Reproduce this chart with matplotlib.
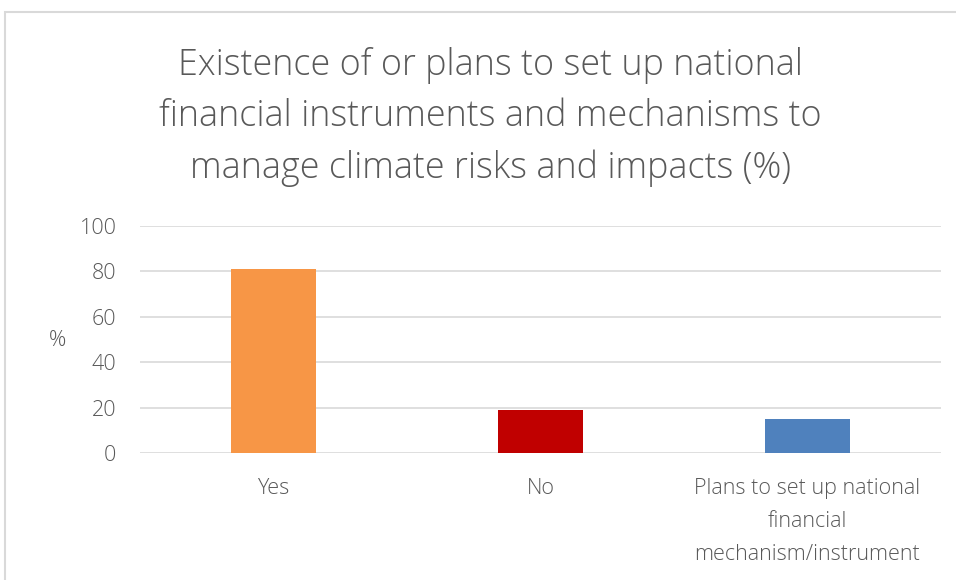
import matplotlib.pyplot as plt
from matplotlib.patches import Rectangle

# data
categories = ['Yes', 'No', 'Plans to set up national\nfinancial\nmechanism/instrument']
values = [81, 19, 15]
colors = ['#F79646', '#C00000', '#4F81BD']
yticks = [0, 20, 40, 60, 80, 100]

title = ('Existence of or plans to set up national\n'
         'financial instruments and mechanisms to\n'
         'manage climate risks and impacts (%)')

plt.rcParams['font.family'] = ['Open Sans', 'DejaVu Sans']
text_color = '#595959'
fw = 'light'

fig = plt.figure(figsize=(9.56, 5.8), dpi=100)
W, H = 956, 580

# light gray frame around the chart area
fig.patches.append(Rectangle((5 / W, -0.1), 1.2, 1.1 - 12 / H, transform=fig.transFigure,
                             fill=False, edgecolor='#D9D9D9', linewidth=1.5))

ax = fig.add_axes([140 / W, 1 - 453 / H, 801 / W, 227 / H])
x = range(len(categories))
ax.bar(x, values, width=0.315, color=colors, zorder=3)

ax.set_xlim(-0.5, len(categories) - 0.5)
ax.set_ylim(0, 100)
ax.set_yticks(yticks)
ax.grid(axis='y', color='#D9D9D9', linewidth=1.2, zorder=0)
for s in ax.spines.values():
    s.set_visible(False)
ax.tick_params(axis='both', length=0, colors=text_color, labelsize=15.5)
ax.tick_params(axis='y', pad=17)
ax.tick_params(axis='x', pad=18)
ax.set_xticks(list(x))
ax.set_xticklabels(categories, linespacing=1.75, fontweight=fw)
for lbl in ax.get_yticklabels():
    lbl.set_fontweight(fw)

fig.text(58 / W, 1 - 340 / H, '%', color=text_color, fontsize=15.5,
         ha='center', va='center', fontweight=fw)
fig.text(490 / W, 1 - 117 / H, title, color=text_color, fontsize=25.8,
         ha='center', va='center', linespacing=1.5, fontweight=fw)

fig.savefig('out.png', dpi=100)
